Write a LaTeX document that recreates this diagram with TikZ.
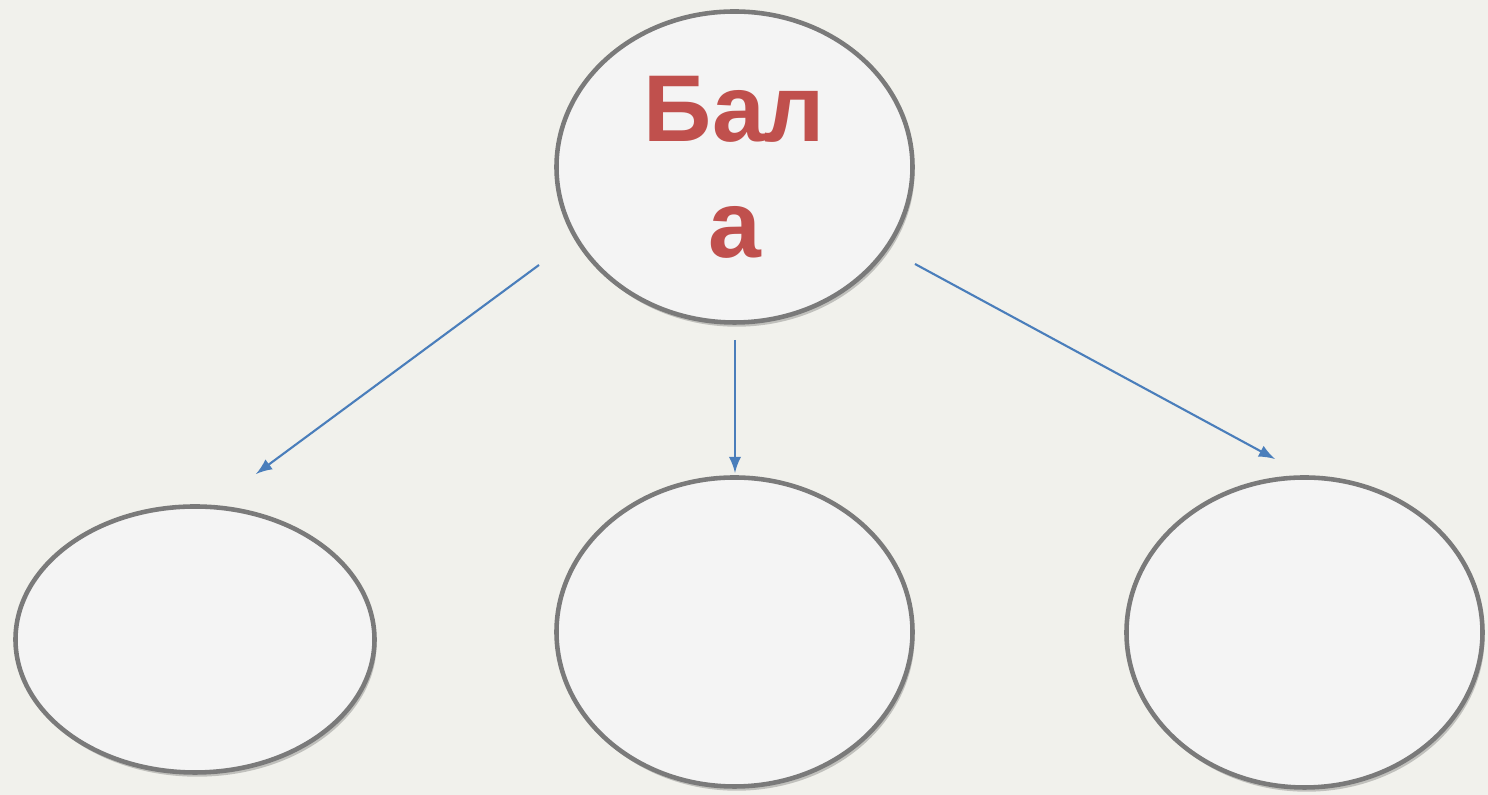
\documentclass[tikz,border=0pt]{standalone}
\usepackage{fontspec}
\newfontfamily\balafont{Liberation Sans}[BoldFont={Liberation Sans Bold}]
\usetikzlibrary{shapes.geometric,shadows}
\definecolor{balared}{HTML}{C0504D}
\definecolor{arrowblue}{HTML}{4A7EBB}
\definecolor{rimgray}{HTML}{7A7A7A}
\definecolor{ovalfill}{HTML}{F4F4F4}
\definecolor{paper}{HTML}{F1F1EC}
\tikzset{
    oval/.style={ellipse, draw=rimgray, line width=1.3pt, fill=ovalfill,
        minimum width=3.56cm, minimum height=3.10cm, inner sep=0pt,
        drop shadow={shadow xshift=0.6pt, shadow yshift=-1.2pt, fill=black, opacity=0.2}},
    link/.style={-latex, arrowblue, line width=0.6pt}
}
\begin{document}
\begin{tikzpicture}
    % Background
    \fill[paper] (0,0) rectangle (14.88,-7.95);
    \useasboundingbox (0,0) rectangle (14.88,-7.95);

    % Define ovals
    \node[oval, minimum height=3.11cm, text=balared, align=center,
        font=\balafont\bfseries\fontsize{27}{33}\selectfont] (bala) at (7.345,-1.67) {Бал\\а};
    \node[oval, minimum width=3.59cm, minimum height=2.66cm] (left) at (1.95,-6.395) {};
    \node[oval, minimum height=3.09cm] (mid) at (7.345,-6.32) {};
    \node[oval] (right) at (13.045,-6.325) {};

    % Arrow ends
    \coordinate (s1) at (5.39,-2.65);
    \coordinate (e1) at (2.56,-4.74);
    \coordinate (s2) at (7.35,-3.40);
    \coordinate (e2) at (7.35,-4.73);
    \coordinate (s3) at (9.15,-2.64);
    \coordinate (e3) at (12.75,-4.59);

    % Draw arrows
    \draw[link] (s1) -- (e1);
    \draw[link] (s2) -- (e2);
    \draw[link] (s3) -- (e3);
\end{tikzpicture}
\end{document}
